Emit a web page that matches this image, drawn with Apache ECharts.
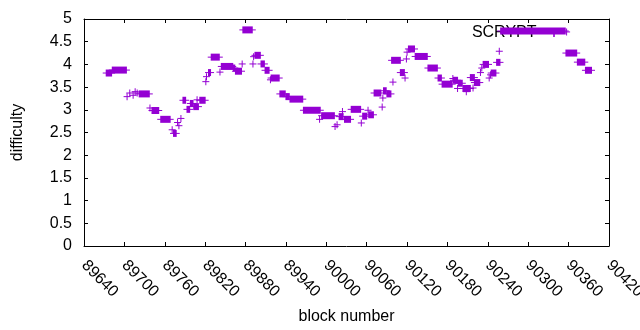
<!DOCTYPE html>
<html>
<head>
<meta charset="utf-8">
<title>SCRYPT difficulty</title>
<script src="https://cdn.jsdelivr.net/npm/echarts@6/dist/echarts.min.js"></script>
<style>
  html, body { margin: 0; padding: 0; background: #fff; }
  #main { width: 640px; height: 330px; }
</style>
</head>
<body>
<div id="main"></div>
<script type="text/javascript">
// runs of blocks at the same difficulty (start == end is a single block)
var runStart = [89673, 89682, 89704, 89708, 89713, 89716, 89719, 89722, 89738, 89741,
                89754, 89771, 89773, 89779, 89781, 89784, 89787, 89793, 89798, 89803,
                89808, 89812, 89821, 89822, 89825, 89829, 89842, 89844, 89862, 89865,
                89875, 89876, 89891, 89892, 89894, 89903, 89909, 89917, 89918, 89931,
                89940, 89946, 89966, 89990, 89993, 90013, 90016, 90019, 90024, 90027,
                90037, 90052, 90054, 90062, 90063, 90071, 90083, 90084, 90085, 90090,
                90097, 90099, 90110, 90117, 90119, 90120, 90122, 90132, 90151, 90166,
                90172, 90188, 90189, 90195, 90196, 90203, 90208, 90214, 90218, 90220,
                90229, 90231, 90233, 90242, 90244, 90245, 90253, 90257, 90259, 90357,
                90356, 90373, 90385];
var runEnd =   [89681, 89703, 89704, 89708, 89713, 89716, 89719, 89737, 89738, 89751,
                89768, 89771, 89777, 89779, 89781, 89784, 89791, 89797, 89802, 89810,
                89808, 89820, 89821, 89822, 89828, 89841, 89842, 89861, 89864, 89874,
                89875, 89890, 89891, 89892, 89902, 89908, 89915, 89917, 89930, 89939,
                89945, 89965, 89991, 89990, 90012, 90013, 90016, 90025, 90024, 90036,
                90051, 90052, 90060, 90062, 90070, 90081, 90083, 90084, 90089, 90096,
                90110, 90099, 90116, 90117, 90119, 90120, 90131, 90150, 90165, 90171,
                90187, 90188, 90195, 90195, 90202, 90214, 90208, 90220, 90218, 90228,
                90229, 90231, 90241, 90242, 90244, 90252, 90258, 90257, 90355, 90357,
                90372, 90384, 90394];
var runDifficulty = [3.81, 3.875, 3.29, 3.37, 3.32, 3.40, 3.37, 3.35, 3.04, 2.985,
                     2.79, 2.56, 2.48, 2.72, 2.65, 2.81, 3.21, 3.01, 3.14, 3.07,
                     3.22, 3.21, 3.62, 3.73, 3.82, 4.16, 3.83, 3.955, 3.92, 3.85,
                     4.01, 4.76, 4.01, 4.17, 4.20, 4.01, 3.87, 3.66, 3.70, 3.35,
                     3.29, 3.235, 2.99, 2.79, 2.87, 2.63, 2.67, 2.85, 2.96, 2.79,
                     3.01, 2.71, 2.86, 2.99, 2.89, 3.37, 3.06, 3.26, 3.42, 3.35,
                     4.09, 3.61, 3.82, 3.70, 4.12, 4.27, 4.34, 4.175, 3.92, 3.70,
                     3.565, 3.69, 3.65, 3.47, 3.585, 3.47, 3.40, 3.71, 3.48, 3.60,
                     3.82, 3.92, 4.00, 3.70, 3.77, 3.81, 4.045, 4.29, 4.735, 4.715,
                     4.25, 4.05, 3.87];

var seriesName = 'SCRYPT';
var purple = '#9400d3';
var font = 'Liberation Sans';

var runs = [];
for (var i = 0; i < runStart.length; i++) {
    runs.push([runStart[i], runEnd[i], runDifficulty[i]]);
}

// gnuplot '+' points: vertical arms merge into a bar, horizontal arm sticks out
function renderRun(params, api) {
    var d = api.value(2);
    var a = api.coord([api.value(0), d]);
    var b = api.coord([api.value(1), d]);
    var arm = 3.5;
    return {
        type: 'group',
        children: [
            {type: 'rect', shape: {x: a[0] - 0.5, y: a[1] - arm, width: b[0] - a[0] + 1, height: arm * 2},
             style: {fill: purple}},
            {type: 'rect', shape: {x: a[0] - arm, y: a[1] - 0.5, width: b[0] - a[0] + arm * 2, height: 1},
             style: {fill: purple}}
        ]
    };
}

var axisLine = {show: true, onZero: false, lineStyle: {color: '#000', width: 1}};
var tick = {show: true, inside: true, length: 4, lineStyle: {color: '#000'}};

var myChart = echarts.init(document.getElementById('main'));
myChart.setOption({
    animation: false,
    backgroundColor: '#fff',
    textStyle: {fontFamily: font},
    grid: {left: 84, right: 31, top: 19, bottom: 84, containLabel: false, outerBoundsMode: 'none'},
    legend: {
        data: [seriesName],
        right: 77,
        top: 20,
        align: 'right',
        itemWidth: 25,
        itemHeight: 8,
        icon: 'path://M4,0h2v4h4v2h-4v4h-2v-4h-4v-2h4z',
        textStyle: {fontSize: 16, color: '#000', fontFamily: font}
    },
    xAxis: [
        {
            type: 'value',
            min: 89640,
            max: 90420,
            interval: 60,
            name: 'block number',
            nameLocation: 'middle',
            nameGap: 63,
            nameTextStyle: {fontSize: 16, color: '#000', fontFamily: font},
            axisLine: axisLine,
            axisTick: tick,
            splitLine: {show: false},
            axisLabel: {
                rotate: -45, margin: 17, fontSize: 16, color: '#000', fontFamily: font,
                formatter: function (v) { return String(v); }
            }
        },
        {
            type: 'value',
            position: 'top',
            min: 89640,
            max: 90420,
            interval: 60,
            axisLine: axisLine,
            axisTick: tick,
            splitLine: {show: false},
            axisLabel: {show: false}
        }
    ],
    yAxis: [
        {
            type: 'value',
            min: 0,
            max: 5,
            interval: 0.5,
            name: 'difficulty',
            nameLocation: 'middle',
            nameRotate: 90,
            nameGap: 58,
            nameTextStyle: {fontSize: 16, color: '#000', fontFamily: font},
            axisLine: axisLine,
            axisTick: tick,
            splitLine: {show: false},
            axisLabel: {margin: 12, fontSize: 16, color: '#000', fontFamily: font}
        },
        {
            type: 'value',
            position: 'right',
            min: 0,
            max: 5,
            interval: 0.5,
            axisLine: axisLine,
            axisTick: tick,
            splitLine: {show: false},
            axisLabel: {show: false}
        }
    ],
    series: [
        {
            name: seriesName,
            type: 'custom',
            xAxisIndex: 0,
            yAxisIndex: 0,
            z: 10,
            itemStyle: {color: purple},
            renderItem: renderRun,
            encode: {x: [0, 1], y: 2},
            data: runs
        }
    ]
});
</script>
</body>
</html>
